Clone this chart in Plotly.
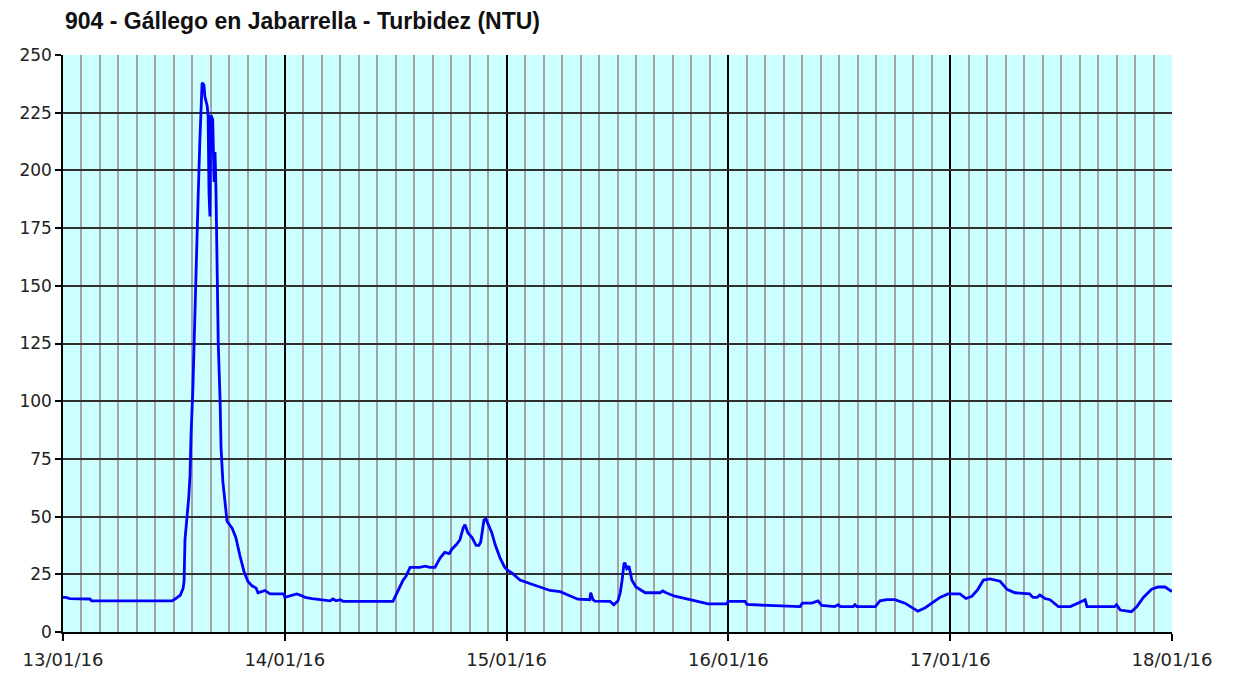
import pandas as pd
import plotly.graph_objects as go

# Hours elapsed since 13/01/16 00:00 and turbidity (NTU)
hours = [0, 0.3, 0.75, 2.9, 3.1, 11.8, 12.2, 12.7, 13.0, 13.1, 13.2, 13.4, 13.6, 13.75, 13.85,
         14.05, 14.2, 14.4, 14.5, 14.6, 14.8, 15.05, 15.25, 15.35, 15.6, 15.7, 15.8, 15.9, 16.0,
         16.2, 16.35, 16.45, 16.55, 16.65, 16.8, 17.0, 17.1, 17.3, 17.5, 17.75, 18.3, 18.7, 19.15,
         19.6, 20.0, 20.45, 20.9, 21.1, 21.5, 21.85, 22.4, 23.9, 24.0,
         24.55, 25.3, 25.65, 26.2, 26.95, 27.8, 28.9, 29.2, 29.55, 30.0, 30.3, 35.7, 36.0, 36.45,
         36.8, 37.1, 37.55, 38.6, 39.2, 39.7, 40.25, 40.8, 41.3, 41.8, 42.1, 42.6, 42.95, 43.3,
         43.5, 43.8, 44.25, 44.7, 45.0, 45.2, 45.55, 45.75, 46.1, 46.4, 46.75, 47.3, 47.8, 48.05,
         48.6, 49.45, 50.5, 51.6, 52.7, 53.8, 54.9, 55.7, 57.0, 57.1, 57.35, 57.55, 59.2, 59.6,
         60.05, 60.3, 60.5, 60.7, 60.8, 61.0, 61.25, 61.55, 62.0, 63.0, 64.6, 64.9, 65.25, 66.2,
         67.85, 69.8, 71.85, 71.95,
         73.8, 74.0, 76.3, 79.75, 80.0, 81.0, 81.7, 82.1, 83.5, 83.9, 84.1, 85.5, 85.7, 85.9,
         87.9, 88.4, 89.15, 90.0, 91.1, 92.0, 92.5, 93.3, 94.0, 94.9, 95.75,
         97.05, 97.7, 98.35, 99.0, 99.6, 100.3, 101.4, 102.15, 103.0, 104.6, 104.95, 105.4, 105.7,
         106.25, 106.8, 107.7, 109.0, 109.8, 110.6, 110.8, 113.8, 114.0, 114.4, 115.6, 116.2,
         116.9, 117.8, 118.5, 119.25, 120.0]
turbidity = [15, 15, 14.5, 14.3, 13.5, 13.5, 14.5, 16, 19, 22, 40, 48, 58, 68, 85,
             105, 130, 160, 175, 185, 212, 238, 237, 232, 228, 224, 190, 180, 224,
             222, 195, 208, 192, 160, 125, 100, 80, 65, 58, 48, 45, 41, 33,
             26, 22, 20, 19, 17, 17.5, 18, 16.5, 16.5, 15,
             15.5, 16.5, 16, 15, 14.5, 14, 13.5, 14.3, 13.5, 14, 13.3, 13.3, 16, 20,
             22.5, 24, 28, 28, 28.5, 28, 28, 32, 34.5, 34, 36, 38, 40, 45,
             46.5, 43, 41, 37.5, 37.5, 39, 48.5, 49, 46, 43, 38, 32, 28, 27,
             25.5, 22.5, 21, 19.5, 18, 17.5, 15.5, 14.2, 14, 17, 14, 13.4, 13.3, 11.8,
             13.5, 17, 22.5, 29.5, 30, 27.5, 28.5, 22.5, 19.5, 17, 17, 17.8, 17, 15.5,
             14, 12.2, 12.2, 13.3,
             13.3, 12, 11.5, 11, 12.5, 12.5, 13.5, 11.5, 11, 11.8, 11, 11, 11.8, 11,
             11, 13.5, 14, 14, 12.5, 10, 9, 10.5, 12.5, 15, 16.5,
             16.5, 14.5, 15.5, 18.5, 22.5, 23, 22, 18.5, 17, 16.5, 15, 15, 16,
             14.5, 14, 11, 11, 12.5, 14, 11, 11, 11.8, 9.5, 8.8, 11,
             15, 18.5, 19.5, 19.5, 17.5]

start = pd.Timestamp("2016-01-13 00:00")
times = [start + pd.Timedelta(hours=h) for h in hours]

title_text = "904 - Gállego en Jabarrella - Turbidez (NTU)"

fig = go.Figure()
fig.add_trace(go.Scatter(
    x=times, y=turbidity, mode="lines",
    line=dict(color="#0000FF", width=2.8),
    hoverinfo="x+y", showlegend=False,
))

fig.update_layout(
    width=1233, height=675,
    margin=dict(l=55, r=69, t=47, b=51),
    paper_bgcolor="white",
    plot_bgcolor="#CCFFFF",
    title=dict(
        text="<b>" + title_text + "</b>",
        x=57 / 1233, xref="container", xanchor="left",
        y=1 - 13 / 675, yref="container", yanchor="middle",
        font=dict(family="Liberation Sans, Arial", size=23, color="#111111"),
    ),
    xaxis=dict(
        type="date",
        range=[pd.Timestamp("2016-01-13"), pd.Timestamp("2016-01-18")],
        dtick=86400000,
        tick0=pd.Timestamp("2016-01-13"),
        tickformat="%d/%m/%y",
        ticks="outside", ticklen=7, tickcolor="black", tickwidth=1.5,
        ticklabelstandoff=4,
        showgrid=True, gridcolor="#000000", gridwidth=1.5,
        minor=dict(dtick=7200000, showgrid=True, gridcolor="#A4A4A4", gridwidth=2, ticks=""),
        showline=True, linecolor="black", linewidth=1.5,
        zeroline=False,
        tickfont=dict(family="DejaVu Sans, Verdana", size=18, color="#222222"),
    ),
    yaxis=dict(
        range=[0, 250],
        dtick=25, tick0=0,
        ticks="outside", ticklen=6, tickcolor="black", tickwidth=1.5,
        showgrid=True, gridcolor="#303030", gridwidth=1.5,
        showline=True, linecolor="black", linewidth=1.5,
        zeroline=False,
        tickfont=dict(family="DejaVu Sans, Verdana", size=17, color="#222222"),
    ),
)

fig.write_html("out.html")
